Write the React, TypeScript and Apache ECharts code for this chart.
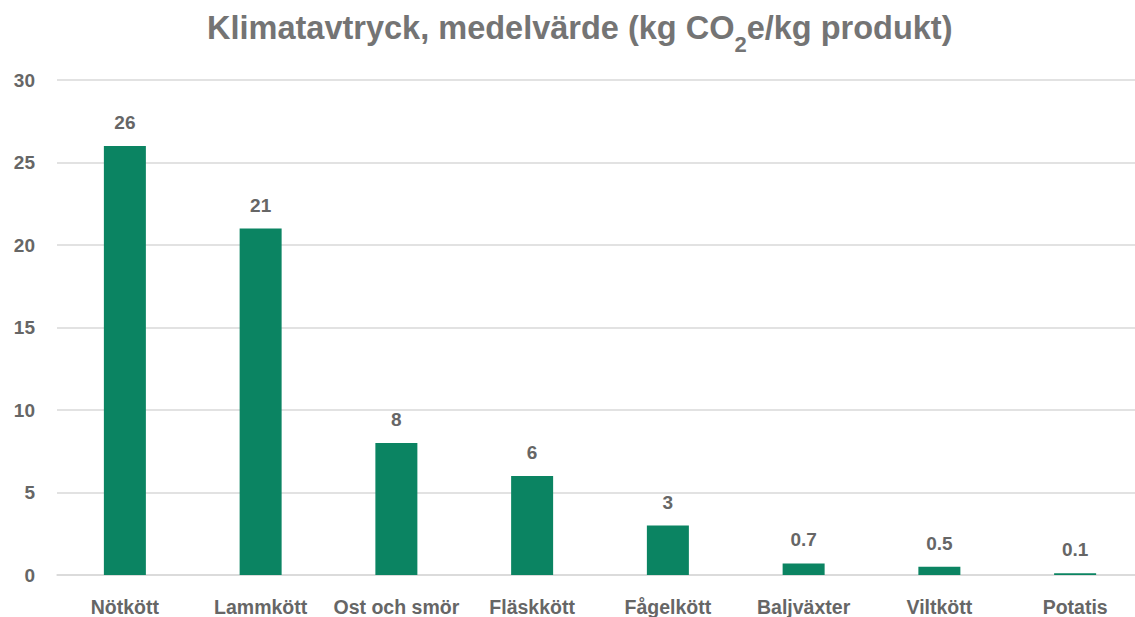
import React, { useEffect, useRef } from "react";
import * as echarts from "echarts";

const categories = ["Nötkött", "Lammkött", "Ost och smör", "Fläskkött", "Fågelkött", "Baljväxter", "Viltkött", "Potatis"];
const values = [26, 21, 8, 6, 3, 0.7, 0.5, 0.1];
const yTicks = { min: 0, max: 30, interval: 5 };

const FONT = "'Liberation Sans', Arial, sans-serif";
const GREEN = "#0b8462";
const TEXT = "#666666";

export default function App() {
  const ref = useRef<HTMLDivElement>(null);
  useEffect(() => {
    if (!ref.current) return;
    const chart = echarts.init(ref.current, undefined, { renderer: "svg" });
    chart.setOption({
      animation: false,
      backgroundColor: "#ffffff",
      title: {
        text: "{a|Klimatavtryck, medelvärde (kg CO}{b|2}{a|e/kg produkt)}",
        left: 207,
        top: -4,
        padding: [5, 0, 5, 0],
        textStyle: {
          rich: {
            a: { fontFamily: FONT, fontSize: 32.5, fontWeight: "bold", color: "#747474", lineHeight: 54 },
            b: { fontFamily: FONT, fontSize: 22, fontWeight: "bold", color: "#747474", verticalAlign: "bottom", lineHeight: 54 },
          },
        },
      },
      grid: { left: 57, right: 0, top: 80, bottom: 42, containLabel: false },
      xAxis: {
        type: "category",
        data: categories,
        axisTick: { show: false },
        axisLine: { lineStyle: { color: "#d9d9d9", width: 1.5 } },
        axisLabel: { color: TEXT, fontFamily: FONT, fontSize: 19.5, fontWeight: "bold", margin: 22, interval: 0 },
      },
      yAxis: {
        type: "value",
        min: yTicks.min,
        max: yTicks.max,
        interval: yTicks.interval,
        axisLine: { show: false },
        axisTick: { show: false },
        splitLine: { lineStyle: { color: "#d9d9d9", width: 1.5 } },
        axisLabel: { color: TEXT, fontFamily: FONT, fontSize: 19, fontWeight: "bold", margin: 22 },
      },
      series: [
        {
          type: "bar",
          data: values,
          barWidth: 42,
          itemStyle: { color: GREEN },
          label: {
            show: true,
            position: "top",
            distance: 14,
            color: TEXT,
            fontFamily: FONT,
            fontSize: 19,
            fontWeight: "bold",
          },
        },
      ],
    });
    return () => chart.dispose();
  }, []);
  return (
    <div style={{ position: "absolute", left: 0, top: 0, width: 1135, height: 617, overflow: "hidden" }}>
      <div ref={ref} style={{ width: 1143, height: 617 }} />
    </div>
  );
}
